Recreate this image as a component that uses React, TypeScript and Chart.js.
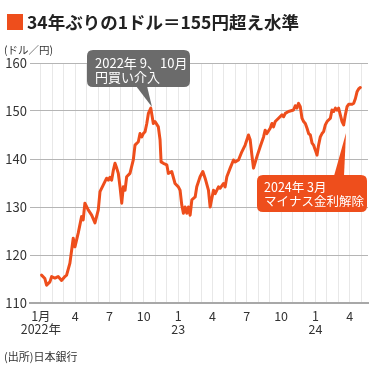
import React, { useEffect, useRef } from "react";
import { Chart, registerables } from "chart.js";

Chart.register(...registerables);

// months since 1 Jan 2022
const months = [
  0.06, 0.35, 0.5, 0.79, 0.94, 1.23, 1.51, 1.81, 2.1, 2.25, 2.54, 2.83, 2.98, 3.27, 3.56, 3.7, 3.85, 4.14, 4.44, 4.73,
  5.02, 5.17, 5.46, 5.75, 5.89, 6.04, 6.19, 6.34, 6.48, 6.63, 6.77, 6.92, 7.07, 7.21, 7.36, 7.5, 7.79, 8.08, 8.23, 8.52,
  8.67, 8.82, 8.96, 9.11, 9.26, 9.4, 9.61, 9.83, 9.98, 10.27, 10.42, 10.51, 10.71, 11.01, 11.15, 11.44, 11.73, 12.02, 12.17, 12.32,
  12.46, 12.61, 12.76, 12.9, 13.05, 13.2, 13.49, 13.63, 13.92, 14.16, 14.36, 14.65, 14.8, 15.09, 15.24, 15.53, 15.67, 15.96, 16.11, 16.26,
  16.55, 16.84, 16.99, 17.28, 17.57, 17.86, 18.15, 18.3, 18.45, 18.59, 18.89, 19.18, 19.47, 19.61, 19.76, 20.05, 20.2, 20.34, 20.49, 20.78,
  21.08, 21.22, 21.37, 21.65, 21.8, 22.09, 22.24, 22.39, 22.53, 22.68, 22.83, 22.97, 23.12, 23.27, 23.41, 23.56, 23.71, 23.84, 23.99, 24.14,
  24.28, 24.43, 24.58, 24.72, 24.87, 25.02, 25.31, 25.45, 25.6, 25.75, 25.89, 26.03, 26.18, 26.33, 26.47, 26.62, 26.77, 26.91, 27.21, 27.35,
  27.5, 27.64, 27.78, 27.93,
];

// yen per dollar
const usdJpy = [
  115.8, 115.1, 113.7, 114.4, 115.5, 115.2, 115.5, 114.7, 115.5, 115.8, 118.3, 123.5, 121.7, 124.6, 128.0, 127.3, 130.8, 129.4, 128.3, 126.7,
  129.4, 133.2, 134.6, 136.0, 135.6, 136.2, 135.6, 137.7, 139.1, 138.1, 137.0, 134.2, 130.8, 134.2, 133.5, 136.3, 137.0, 139.8, 142.9, 143.6,
  145.3, 144.6, 145.3, 145.7, 147.4, 149.5, 150.6, 147.4, 147.8, 146.7, 144.0, 139.4, 139.1, 138.8, 137.0, 137.4, 134.9, 134.2, 133.5, 130.4,
  128.7, 130.0, 128.7, 130.0, 128.3, 131.5, 132.1, 134.2, 136.3, 137.4, 136.0, 133.5, 130.0, 133.5, 132.8, 134.2, 133.9, 134.9, 134.2, 136.3,
  138.1, 139.8, 139.4, 139.8, 141.5, 142.9, 145.0, 144.0, 140.8, 138.1, 140.5, 142.6, 144.6, 146.0, 145.3, 146.4, 147.4, 146.7, 147.8, 148.5,
  149.2, 148.8, 149.5, 149.9, 150.0, 150.2, 151.1, 150.6, 151.6, 150.9, 148.5, 147.8, 147.4, 146.4, 145.3, 145.0, 143.3, 142.9, 141.9, 140.8,
  142.9, 144.6, 145.3, 145.7, 147.1, 147.8, 148.5, 150.2, 149.9, 150.6, 150.2, 150.6, 149.2, 147.8, 147.1, 149.2, 150.9, 151.4, 151.4, 151.6,
  152.6, 154.0, 154.6, 154.9,
];

const xTickMonths = [0, 3, 6, 9, 12, 15, 18, 21, 24, 27];
const xTickLabels: (string | string[])[] = [["1月", "2022年"], "4", "7", "10", ["1", "23"], "4", "7", "10", ["1", "24"], "4"];
const yMin = 110;
const yMax = 160;
const yStep = 10;

const TITLE = "34年ぶりの1ドル＝155円超え水準";
const UNIT = "(ドル／円)";
const SOURCE = "(出所)日本銀行";
const NOTE1 = ["2022年 9、10月", "円買い介入"];
const NOTE2 = ["2024年 3月", "マイナス金利解除"];

const ORANGE = "#EE4E1C";
const FONT = "'Noto Sans CJK JP', 'Noto Sans', sans-serif";

function roundRect(ctx: CanvasRenderingContext2D, x: number, y: number, w: number, h: number, r: number) {
  ctx.beginPath();
  ctx.moveTo(x + r, y);
  ctx.lineTo(x + w - r, y);
  ctx.quadraticCurveTo(x + w, y, x + w, y + r);
  ctx.lineTo(x + w, y + h - r);
  ctx.quadraticCurveTo(x + w, y + h, x + w - r, y + h);
  ctx.lineTo(x + r, y + h);
  ctx.quadraticCurveTo(x, y + h, x, y + h - r);
  ctx.lineTo(x, y + r);
  ctx.quadraticCurveTo(x, y, x + r, y);
  ctx.closePath();
}

const decorPlugin = {
  id: "decor",
  afterDraw(chart: any) {
    const ctx: CanvasRenderingContext2D = chart.ctx;
    ctx.save();
    // title
    ctx.fillStyle = ORANGE;
    ctx.fillRect(7, 14, 16, 16);
    ctx.fillStyle = "#222";
    ctx.font = `bold 17.5px ${FONT}`;
    ctx.textBaseline = "middle";
    ctx.textAlign = "left";
    ctx.fillText(TITLE, 27, 22);
    // unit
    ctx.fillStyle = "#333";
    ctx.font = `10.5px ${FONT}`;
    ctx.fillText(UNIT, 4, 50);
    // source
    ctx.font = `11px ${FONT}`;
    ctx.fillText(SOURCE, 4, 357);

    // note 1 (grey)
    ctx.fillStyle = "#6b6b6b";
    roundRect(ctx, 87, 50, 103, 37, 6);
    ctx.fill();
    ctx.beginPath();
    ctx.moveTo(136, 86);
    ctx.lineTo(147, 86);
    ctx.lineTo(152, 107);
    ctx.closePath();
    ctx.fill();
    ctx.fillStyle = "#fff";
    ctx.font = `13px ${FONT}`;
    ctx.fillText(NOTE1[0], 95, 63);
    ctx.fillText(NOTE1[1], 95, 77);

    // note 2 (orange)
    ctx.fillStyle = ORANGE;
    roundRect(ctx, 257, 175, 110, 37, 6);
    ctx.fill();
    ctx.beginPath();
    ctx.moveTo(334, 176);
    ctx.lineTo(344, 176);
    ctx.lineTo(346, 133);
    ctx.closePath();
    ctx.fill();
    ctx.fillStyle = "#fff";
    ctx.font = `12.5px ${FONT}`;
    ctx.fillText(NOTE2[0], 264, 187);
    ctx.fillText(NOTE2[1], 264, 201);
    ctx.restore();
  },
};

export default function App() {
  const ref = useRef<HTMLCanvasElement>(null);
  useEffect(() => {
    if (!ref.current) return;
    const points = months.map((m, i) => ({ x: m, y: usdJpy[i] }));
    const chart = new Chart(ref.current, {
      type: "line",
      data: {
        datasets: [
          {
            data: points,
            borderColor: ORANGE,
            borderWidth: 3,
            pointRadius: 0,
            tension: 0,
            borderJoinStyle: "round",
            borderCapStyle: "round",
          },
        ],
      },
      options: {
        responsive: false,
        animation: false,
        events: [],
        layout: { padding: { top: 63, right: 7, bottom: 0, left: 0 } },
        plugins: { legend: { display: false }, tooltip: { enabled: false }, title: { display: false } },
        scales: {
          x: {
            type: "linear",
            min: -0.95,
            max: 28.6,
            afterBuildTicks: (scale: any) => {
              const t = [];
              for (let m = 0; m <= 28; m++) t.push({ value: m });
              scale.ticks = t;
            },
            afterFit: (scale: any) => {
              scale.height = 72;
            },
            grid: { color: "#e8e8e8", lineWidth: 1, drawTicks: false },
            border: { display: true, color: "#a8a8a8", width: 2 },
            ticks: {
              autoSkip: false,
              maxRotation: 0,
              padding: 7,
              color: "#333",
              font: { family: FONT, size: 12.5, lineHeight: 1.0 },
              callback: (v: any) => {
                const idx = xTickMonths.indexOf(Number(v));
                return idx >= 0 ? xTickLabels[idx] : "";
              },
            },
          },
          y: {
            min: yMin,
            max: yMax,
            afterFit: (scale: any) => {
              scale.width = 30;
            },
            grid: { color: "#b5b5b5", lineWidth: 1, drawTicks: false },
            border: { display: false },
            ticks: {
              stepSize: yStep,
              padding: 3,
              color: "#333",
              font: { family: FONT, size: 13 },
            },
          },
        },
      },
      plugins: [decorPlugin],
    });
    return () => chart.destroy();
  }, []);
  return (
    <div style={{ position: "fixed", left: 0, top: 0, width: 375, height: 375, background: "#fff" }}>
      <canvas ref={ref} width={375} height={375} />
    </div>
  );
}
